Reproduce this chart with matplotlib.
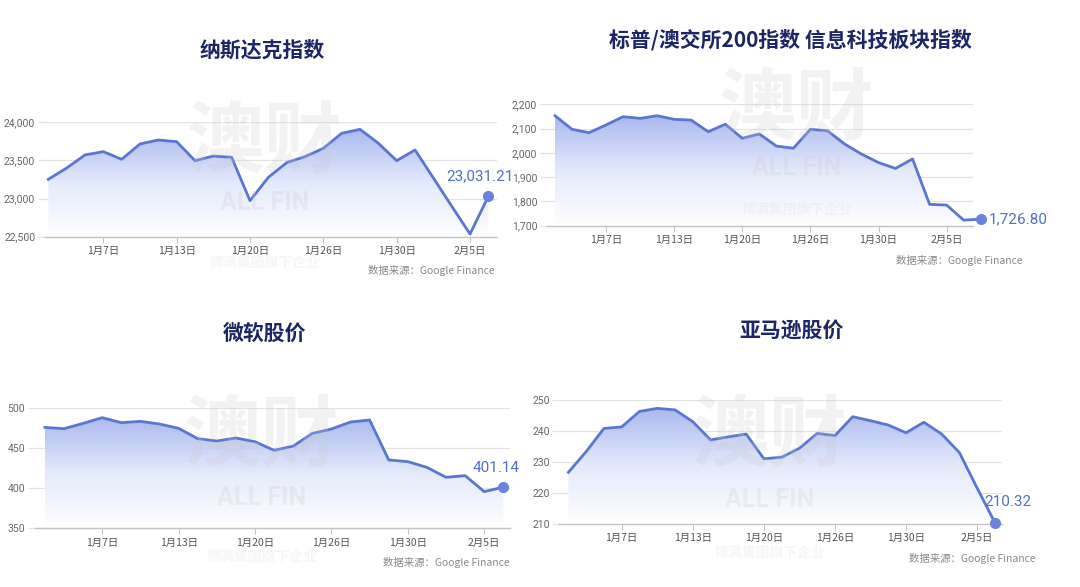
import numpy as np
import matplotlib
matplotlib.use("Agg")
import matplotlib.pyplot as plt
from matplotlib.colors import LinearSegmentedColormap
from matplotlib.patches import Polygon

plt.rcParams["font.family"] = ["Noto Sans CJK SC", "DejaVu Sans"]

# ----------------------------
# Data (x = trading-day index)
# ----------------------------
TICK_LABELS = ["1月7日", "1月13日", "1月20日", "1月26日", "1月30日", "2月5日"]
TICK_IDX = [3, 7, 11, 15, 19, 23]

nasdaq = [23252, 23400, 23572, 23615, 23515, 23716, 23768, 23746, 23497, 23558,
          23541, 22972, 23278, 23471, 23550, 23659, 23856, 23908, 23725, 23497,
          23637, 23270, 22900, 22535, 23031.21]
asx_it = [2153, 2097, 2083, 2115, 2149, 2142, 2153, 2138, 2135, 2087, 2118, 2060,
          2078, 2028, 2019, 2097, 2091, 2037, 1995, 1960, 1936, 1975, 1788, 1785,
          1723, 1726.80]
msft = [475.5, 473.9, 480.5, 487.6, 481.4, 483.0, 479.7, 474.3, 461.5, 458.6,
        462.3, 457.7, 447.0, 452.3, 468.0, 473.5, 482.2, 484.7, 435.0, 432.9,
        425.8, 413.4, 415.5, 395.6, 401.14]
amzn = [226.6, 233.3, 240.8, 241.3, 246.3, 247.3, 246.8, 243.0, 237.1, 238.1,
        239.0, 231.0, 231.5, 234.4, 239.2, 238.5, 244.6, 243.3, 241.9, 239.4,
        242.8, 239.0, 233.0, 221.5, 210.32]

TITLES = ["纳斯达克指数", "标普/澳交所200指数 信息科技板块指数", "微软股价", "亚马逊股价"]
LAST_LABELS = ["23,031.21", "1,726.80", "401.14", "210.32"]
SOURCE = "数据来源：Google Finance"
WM_BIG, WM_MID, WM_SMALL = "澳财", "ALL FIN", "博满集团旗下企业"

W, H = 1080, 587
LINE = "#5a77d0"
DOT = "#6a84dc"
NAVY = "#1c2566"
GRID = "#e3e3e3"
TXT = "#666666"
WM = "#c9c9ce"

grad = LinearSegmentedColormap.from_list("g", ["#ffffff", "#e3e9fb", "#a6b6ef"])

# panel layout in pixels: axes box (left, top, right, bottom), xlim, ylim, yticks
PANELS = [
    dict(y=nasdaq, box=(45, 122.3, 497, 236.7), xlim=(-0.18, 24.47),
         ylim=(22500, 24000), yticks=[22500, 23000, 23500, 24000], fmt="{:,.0f}",
         title=(262, 50), src=(495, 271), lab_off=(-6, 9), lab_ha="center", lab_va="bottom",
         wm=(265, 143, 203, 263)),
    dict(y=asx_it, box=(547, 104.3, 973, 225.7), xlim=(-0.47, 24.55),
         ylim=(1700, 2200), yticks=[1700, 1800, 1900, 2000, 2100, 2200], fmt="{:,.0f}",
         title=(790, 40), src=(1023, 260), lab_off=(6, 0), lab_ha="left", lab_va="center",
         wm=(797, 110, 168, 210)),
    dict(y=msft, box=(35, 407.7, 510, 528.3), xlim=(-0.52, 24.35),
         ylim=(350, 500), yticks=[350, 400, 450, 500], fmt="{:.0f}",
         title=(265, 333), src=(510, 563), lab_off=(-5, 9), lab_ha="center", lab_va="bottom",
         wm=(262, 437, 498, 557)),
    dict(y=amzn, box=(559.3, 400, 1001.7, 523.7), xlim=(-0.51, 24.38),
         ylim=(210, 250), yticks=[210, 220, 230, 240, 250], fmt="{:.0f}",
         title=(792, 330), src=(1036, 558), lab_off=(-8, 10), lab_ha="left", lab_va="bottom",
         wm=(770, 437, 500, 553)),
]

fig = plt.figure(figsize=(W / 100, H / 100), dpi=100)
fig.patch.set_facecolor("white")

for k, p in enumerate(PANELS):
    l, t, r, b = p["box"]
    ax = fig.add_axes([l / W, 1 - b / H, (r - l) / W, (b - t) / H])
    y = np.asarray(p["y"], dtype=float)
    x = np.arange(len(y))
    ax.set_xlim(*p["xlim"])
    ax.set_ylim(*p["ylim"])

    # gradient fill under line
    y0 = p["ylim"][0]
    verts = np.column_stack([np.r_[x, x[-1], x[0]], np.r_[y, y0, y0]])
    poly = Polygon(verts, closed=True, facecolor="none", edgecolor="none")
    ax.add_patch(poly)
    g = np.linspace(0, 1, 256).reshape(-1, 1)
    im = ax.imshow(g, cmap=grad, aspect="auto", origin="lower",
                   extent=(x[0], x[-1], y0, y.max()), zorder=1, alpha=0.95)
    im.set_clip_path(poly)
    ax.set_xlim(*p["xlim"])
    ax.set_ylim(*p["ylim"])

    ax.plot(x, y, color=LINE, lw=2.0, zorder=3, clip_on=False, solid_joinstyle="round")
    ax.plot(x[-1], y[-1], "o", ms=7, color=DOT, zorder=4, clip_on=False)
    ax.annotate(LAST_LABELS[k], (x[-1], y[-1]), xytext=p["lab_off"], textcoords="offset points",
                ha=p["lab_ha"], va=p["lab_va"], fontsize=11, color="#5070c8",
                family=["Roboto", "DejaVu Sans"], annotation_clip=False)

    # axes styling
    for s in ["top", "right", "left"]:
        ax.spines[s].set_visible(False)
    ax.spines["bottom"].set_color("#c4c4c4")
    ax.spines["bottom"].set_linewidth(1.0)
    ax.set_yticks(p["yticks"])
    ax.set_yticklabels([p["fmt"].format(v) for v in p["yticks"]])
    ax.set_xticks(TICK_IDX)
    ax.set_xticklabels(TICK_LABELS)
    ax.grid(axis="y", color=GRID, lw=0.9, zorder=0)
    ax.set_axisbelow(True)
    ax.tick_params(axis="y", length=5, width=0.9, color=GRID, labelsize=7.5,
                   labelcolor=TXT, pad=2)
    ax.tick_params(axis="x", length=4, width=0.8, color="#c4c4c4", labelsize=7.5,
                   labelcolor="#555555", pad=3)
    for lab in ax.get_yticklabels():
        lab.set_family(["Roboto", "DejaVu Sans"])
    ax.patch.set_alpha(0)

    # watermark (over the fill, under the line)
    wx, wy1, wy2, wy3 = p["wm"]
    fig.text(wx / W, 1 - wy1 / H, WM_BIG, ha="center", va="center", fontsize=56,
             fontweight="bold", color=WM, alpha=0.24, zorder=2)
    fig.text(wx / W, 1 - wy2 / H, WM_MID, ha="center", va="center", fontsize=18,
             fontweight="bold", color=WM, alpha=0.24, zorder=2,
             family=["Roboto", "DejaVu Sans"])
    fig.text(wx / W, 1 - wy3 / H, WM_SMALL, ha="center", va="center", fontsize=10,
             fontweight="bold", color=WM, alpha=0.16, zorder=2)

    tx, ty = p["title"]
    fig.text(tx / W, 1 - ty / H, TITLES[k], ha="center", va="center",
             fontsize=15, fontweight="bold", color=NAVY)
    sx, sy = p["src"]
    fig.text(sx / W, 1 - sy / H, SOURCE, ha="right", va="center",
             fontsize=7.5, color="#888888")

fig.savefig("out.png", dpi=100, facecolor="white")
